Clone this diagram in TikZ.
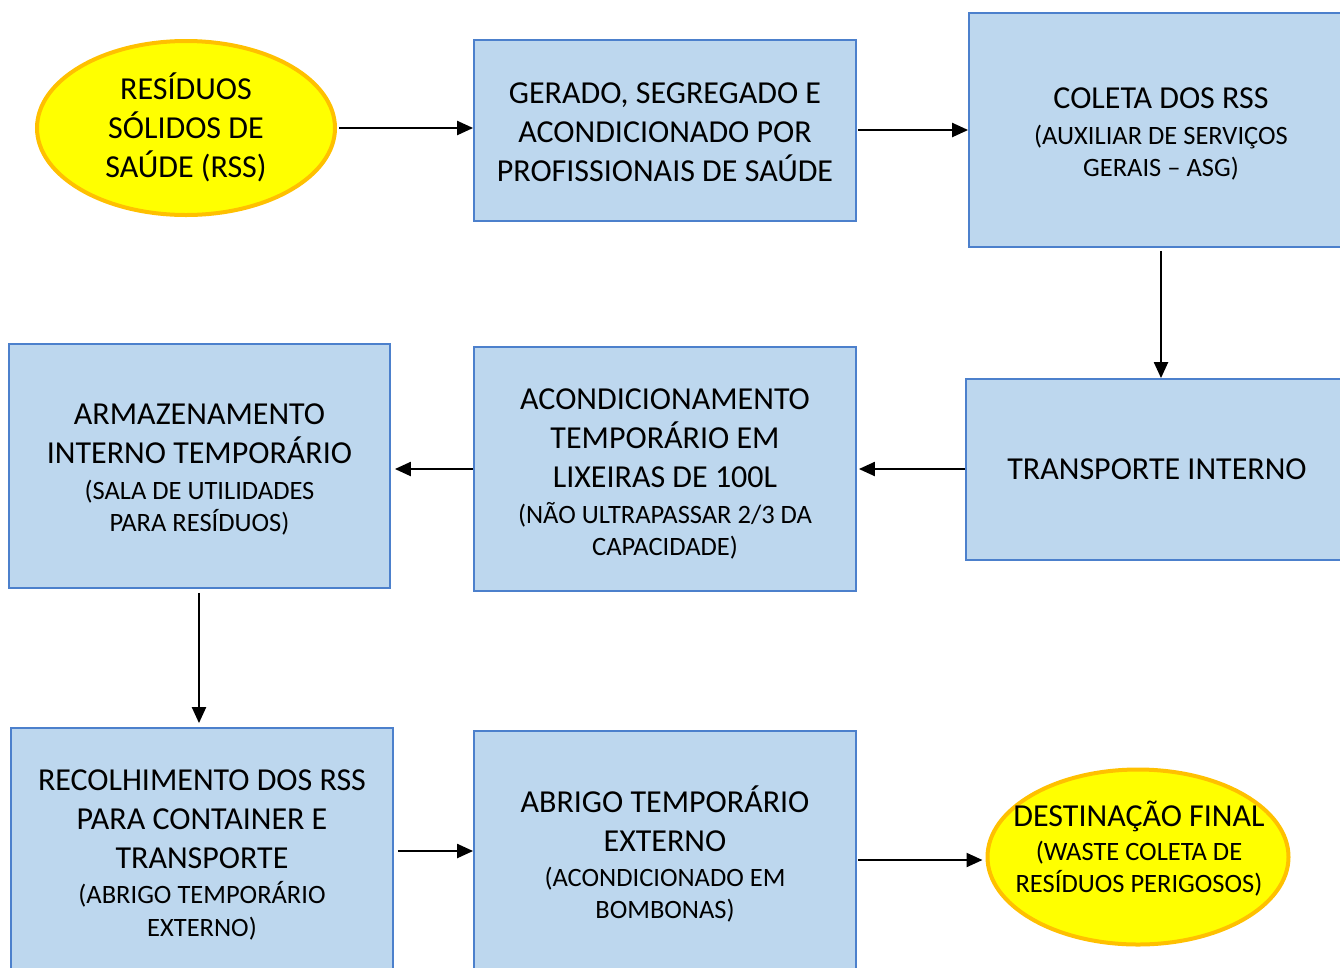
\documentclass[tikz,border=0pt]{standalone}
\usepackage{fontspec}
\setmainfont{Carlito}
\usetikzlibrary{arrows.meta,shapes.geometric}
\definecolor{boxfill}{HTML}{BDD7EE}
\definecolor{boxline}{HTML}{4C80CC}
\definecolor{ellfill}{HTML}{FFFF00}
\definecolor{ellline}{HTML}{FFC000}
\newcommand{\BT}{\fontsize{32}{39}\selectfont}
\newcommand{\ST}{\fontsize{26.5}{39}\selectfont}
\tikzset{
  stepbox/.style={draw=boxline, fill=boxfill, line width=1.8pt, inner sep=0pt},
  ellnode/.style={ellipse, draw=ellline, fill=ellfill, line width=4pt, inner sep=0pt},
  txt/.style={align=center, inner sep=0pt, font=\BT},
  conn/.style={line width=2.2pt, -{Triangle[length=16pt,width=14pt]}}
}
\begin{document}
\begin{tikzpicture}[x=1pt,y=-1pt]
\useasboundingbox (0,0) rectangle (1340,967);
\node[ellnode, minimum width=298pt, minimum height=174pt] (e1) at (186,128) {};
\node[txt] (e1t) at ([yshift=1pt]e1.center) {RESÍDUOS\\SÓLIDOS DE\\SAÚDE (RSS)};
\node[stepbox, minimum width=382pt, minimum height=181pt] (b1) at (665,130.5) {};
\node[txt] (b1t) at ([yshift=-2pt]b1.center) {GERADO, SEGREGADO E\\ACONDICIONADO POR\\PROFISSIONAIS DE SAÚDE};
\node[stepbox, minimum width=384pt, minimum height=234pt] (c) at (1161,130) {};
\node[txt] (ct) at ([yshift=-4pt]c.center) {COLETA DOS RSS\\[-3pt]\ST (AUXILIAR DE SERVIÇOS\\[-7pt]\ST GERAIS – ASG)};
\node[stepbox, minimum width=382pt, minimum height=181pt] (t) at (1157,469.5) {};
\node[txt] (tt) at (t.center) {TRANSPORTE INTERNO};
\node[stepbox, minimum width=382pt, minimum height=244pt] (a) at (665,469) {};
\node[txt] (at) at ([yshift=-4.5pt]a.center) {ACONDICIONAMENTO\\TEMPORÁRIO EM\\LIXEIRAS DE 100L\\[-3pt]\ST (NÃO ULTRAPASSAR 2/3 DA\\[-7pt]\ST CAPACIDADE)};
\node[stepbox, minimum width=381pt, minimum height=244pt] (m) at (199.5,466) {};
\node[txt] (mt) at ([yshift=-3.5pt]m.center) {ARMAZENAMENTO\\INTERNO TEMPORÁRIO\\[-3pt]\ST (SALA DE UTILIDADES\\[-7pt]\ST PARA RESÍDUOS)};
\node[stepbox, minimum width=382pt, minimum height=250pt] (r) at (202,853) {};
\node[txt] (rt) at ([yshift=-1.5pt]r.center) {RECOLHIMENTO DOS RSS\\PARA CONTAINER E\\TRANSPORTE\\[-4pt]\ST (ABRIGO TEMPORÁRIO\\[-6pt]\ST EXTERNO)};
\node[stepbox, minimum width=382pt, minimum height=248pt] (ab) at (665,855) {};
\node[txt] (abt) at ([yshift=1pt]ab.center) {ABRIGO TEMPORÁRIO\\EXTERNO\\[-4pt]\ST (ACONDICIONADO EM\\[-7pt]\ST BOMBONAS)};
\node[ellnode, minimum width=301pt, minimum height=175pt] (e2) at (1138,857) {};
\node[txt] (e2t) at (1139,849) {DESTINAÇÃO FINAL\\[-5pt]\ST (WASTE COLETA DE\\[-7pt]\ST RESÍDUOS PERIGOSOS)};
\draw[conn, shorten <=2pt] (e1.east) -- (e1.east -| b1.west);
\draw[conn, shorten <=1pt] (b1.east |- 0,130) -- (c.west |- 0,130);
\draw[conn, shorten <=3pt] (c.south) -- (c.south |- t.north);
\draw[conn, shorten >=2pt] (t.west |- 0,469) -- (a.east |- 0,469);
\draw[conn, shorten >=4pt] (a.west |- 0,469) -- (m.east |- 0,469);
\draw[conn, shorten <=4pt, shorten >=4pt] (m.south -| 199,0) -- (r.north -| 199,0);
\draw[conn, shorten <=4pt] (r.east |- 0,851) -- (ab.west |- 0,851);
\draw[conn, shorten <=1pt, shorten >=3pt] (ab.east |- 0,860) -- (e2.west |- 0,860);
\end{tikzpicture}
\end{document}
